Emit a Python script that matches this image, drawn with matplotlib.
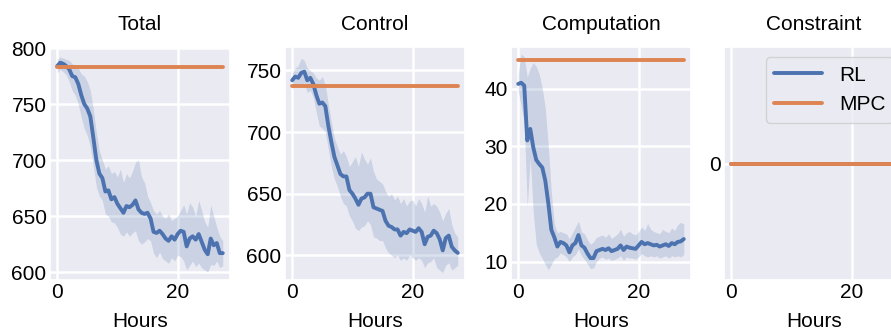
import numpy as np
import matplotlib
matplotlib.use("Agg")
import matplotlib.pyplot as plt
import seaborn as sns

sns.set_theme(style="darkgrid")
plt.rcParams['font.family'] = ['Liberation Sans', 'DejaVu Sans']
plt.rcParams['text.color'] = 'black'
plt.rcParams['axes.labelcolor'] = 'black'
plt.rcParams['xtick.color'] = 'black'
plt.rcParams['ytick.color'] = 'black'
plt.rcParams['grid.linewidth'] = 1.8

# hours (every half hour)
hours = np.arange(0, 28, 0.5)

# Total
total_mean = [784, 787, 786, 784, 781, 775, 774, 768, 758, 750, 746, 739, 720, 700,
              688, 684, 672, 673, 665, 667, 661, 657, 653, 659, 658, 660, 664, 656,
              653, 652, 653, 648, 636, 635, 637, 634, 630, 628, 632, 629, 634, 637,
              636, 623, 630, 632, 629, 634, 627, 620, 616, 630, 624, 626, 617, 617]
total_hi = [790, 792, 791, 790, 789, 786, 784, 782, 777, 775, 770, 762, 745, 725,
            708, 700, 692, 695, 688, 690, 685, 692, 680, 688, 684, 690, 698, 700,
            685, 680, 668, 662, 655, 652, 655, 650, 648, 652, 646, 648, 650, 655,
            660, 652, 662, 658, 650, 664, 655, 645, 640, 660, 650, 640, 632, 628]
total_lo = [778, 781, 779, 776, 770, 762, 758, 750, 738, 728, 722, 712, 695, 676,
            668, 664, 652, 650, 645, 644, 640, 634, 632, 636, 632, 635, 637, 628,
            625, 627, 630, 628, 617, 613, 618, 612, 610, 608, 613, 610, 615, 614,
            610, 602, 606, 610, 605, 608, 604, 602, 600, 607, 606, 610, 604, 606]
total_mpc = 783

# Control
control_mean = [742, 745, 744, 748, 749, 742, 744, 739, 730, 723, 724, 721, 705, 692,
                680, 673, 666, 664, 664, 653, 650, 646, 641, 646, 647, 650, 650, 639,
                638, 637, 636, 628, 624, 623, 621, 621, 616, 619, 618, 621, 620, 619,
                622, 619, 609, 615, 616, 620, 618, 613, 604, 614, 616, 607, 604, 602]
control_hi = [748, 752, 754, 760, 758, 752, 750, 748, 744, 742, 745, 738, 722, 708,
              695, 688, 682, 685, 680, 672, 676, 680, 672, 684, 678, 674, 679, 668,
              662, 660, 658, 652, 648, 650, 645, 648, 642, 646, 640, 644, 645, 640,
              646, 642, 635, 648, 640, 642, 640, 635, 628, 634, 638, 625, 618, 615]
control_lo = [735, 738, 736, 738, 740, 732, 734, 728, 716, 705, 703, 700, 686, 672,
              662, 656, 648, 642, 640, 632, 628, 622, 620, 623, 624, 628, 625, 615,
              614, 612, 612, 606, 602, 600, 598, 600, 596, 598, 596, 600, 598, 596,
              598, 596, 590, 594, 595, 598, 590, 588, 586, 592, 594, 588, 590, 592]
control_mpc = 737

# Computation
comp_mean = [40.8, 41.0, 40.5, 31.0, 33.0, 29.8, 27.6, 26.9, 26.3, 24.0, 20.1, 15.5,
             14.2, 12.6, 13.4, 13.2, 12.8, 11.6, 12.8, 13.2, 14.6, 12.8, 12.4, 11.4,
             10.6, 10.6, 11.8, 12.0, 12.2, 12.0, 12.3, 11.8, 12.0, 12.2, 12.8, 12.0,
             12.6, 12.4, 12.3, 12.2, 12.8, 13.4, 13.0, 13.2, 13.0, 12.8, 12.9, 12.6,
             12.8, 13.0, 12.7, 13.2, 13.0, 13.4, 13.5, 13.9]
comp_hi = [42.5, 46.0, 45.5, 42.0, 43.5, 44.5, 43.8, 42.5, 40.0, 36.5, 30.0, 22.0,
           16.5, 15.0, 15.2, 15.0, 14.8, 14.0, 15.0, 16.0, 17.0, 15.2, 14.8, 13.8,
           13.0, 13.4, 14.2, 14.4, 14.6, 14.2, 14.8, 14.0, 14.4, 14.8, 15.6, 14.4,
           15.0, 15.2, 14.8, 14.6, 15.2, 16.0, 15.4, 16.6, 15.6, 15.2, 15.0, 14.8,
           15.6, 15.2, 15.0, 15.8, 15.4, 16.4, 16.8, 16.5]
comp_lo = [39.5, 37.0, 34.0, 19.5, 28.0, 18.5, 13.0, 11.5, 10.5, 9.5, 8.6, 9.5,
           10.5, 10.8, 11.5, 11.2, 10.8, 10.0, 10.8, 11.2, 12.2, 11.0, 10.4, 9.6,
           8.8, 8.9, 10.0, 10.6, 10.8, 10.4, 10.6, 10.2, 10.4, 10.6, 11.0, 10.2,
           10.8, 10.6, 10.6, 10.4, 10.8, 11.4, 11.0, 10.8, 11.0, 10.8, 11.0, 10.6,
           10.8, 11.0, 10.6, 11.0, 10.8, 11.0, 10.8, 11.2]
comp_mpc = 45

# Constraint (both zero)
cons_mean = [0.0] * 56
cons_mpc = 0

titles = ['Total', 'Control', 'Computation', 'Constraint']

blue = '#4C72B0'
orange = '#DD8452'
fs = 15

W, H = 891, 331
lefts = [50, 285, 511, 724]
fig = plt.figure(figsize=(W / 100, H / 100), dpi=100)
axes = [fig.add_axes([l / W, 51 / H, 180 / W, 233 / H]) for l in lefts]

panels = [
    (total_mean, total_lo, total_hi, total_mpc, (593, 801), [600, 650, 700, 750, 800]),
    (control_mean, control_lo, control_hi, control_mpc, (580, 769), [600, 650, 700, 750]),
    (comp_mean, comp_lo, comp_hi, comp_mpc, (6.8, 47.2), [10, 20, 30, 40]),
    (cons_mean, cons_mean, cons_mean, cons_mpc, (-0.055, 0.055), [0]),
]

for ax, title, (mean, lo, hi, mpc, ylim, yt) in zip(axes, titles, panels):
    ax.fill_between(hours, lo, hi, color=blue, alpha=0.2, linewidth=0)
    ax.plot(hours, mean, color=blue, linewidth=2.8, label='RL')
    ax.plot(hours, [mpc] * len(hours), color=orange, linewidth=2.8, label='MPC')
    ax.set_ylim(*ylim)
    ax.set_yticks(yt)
    ax.set_xticks([0, 20])
    ax.set_xlim(-1.2, 28.7)
    ax.set_title(title, fontsize=fs, pad=12.5)
    ax.set_xlabel('Hours', fontsize=fs, labelpad=7)
    ax.tick_params(labelsize=fs, length=0, pad=2.5)

leg = axes[3].legend(loc='upper right', fontsize=fs, handlelength=2.3)

fig.savefig('out.png', dpi=100)
